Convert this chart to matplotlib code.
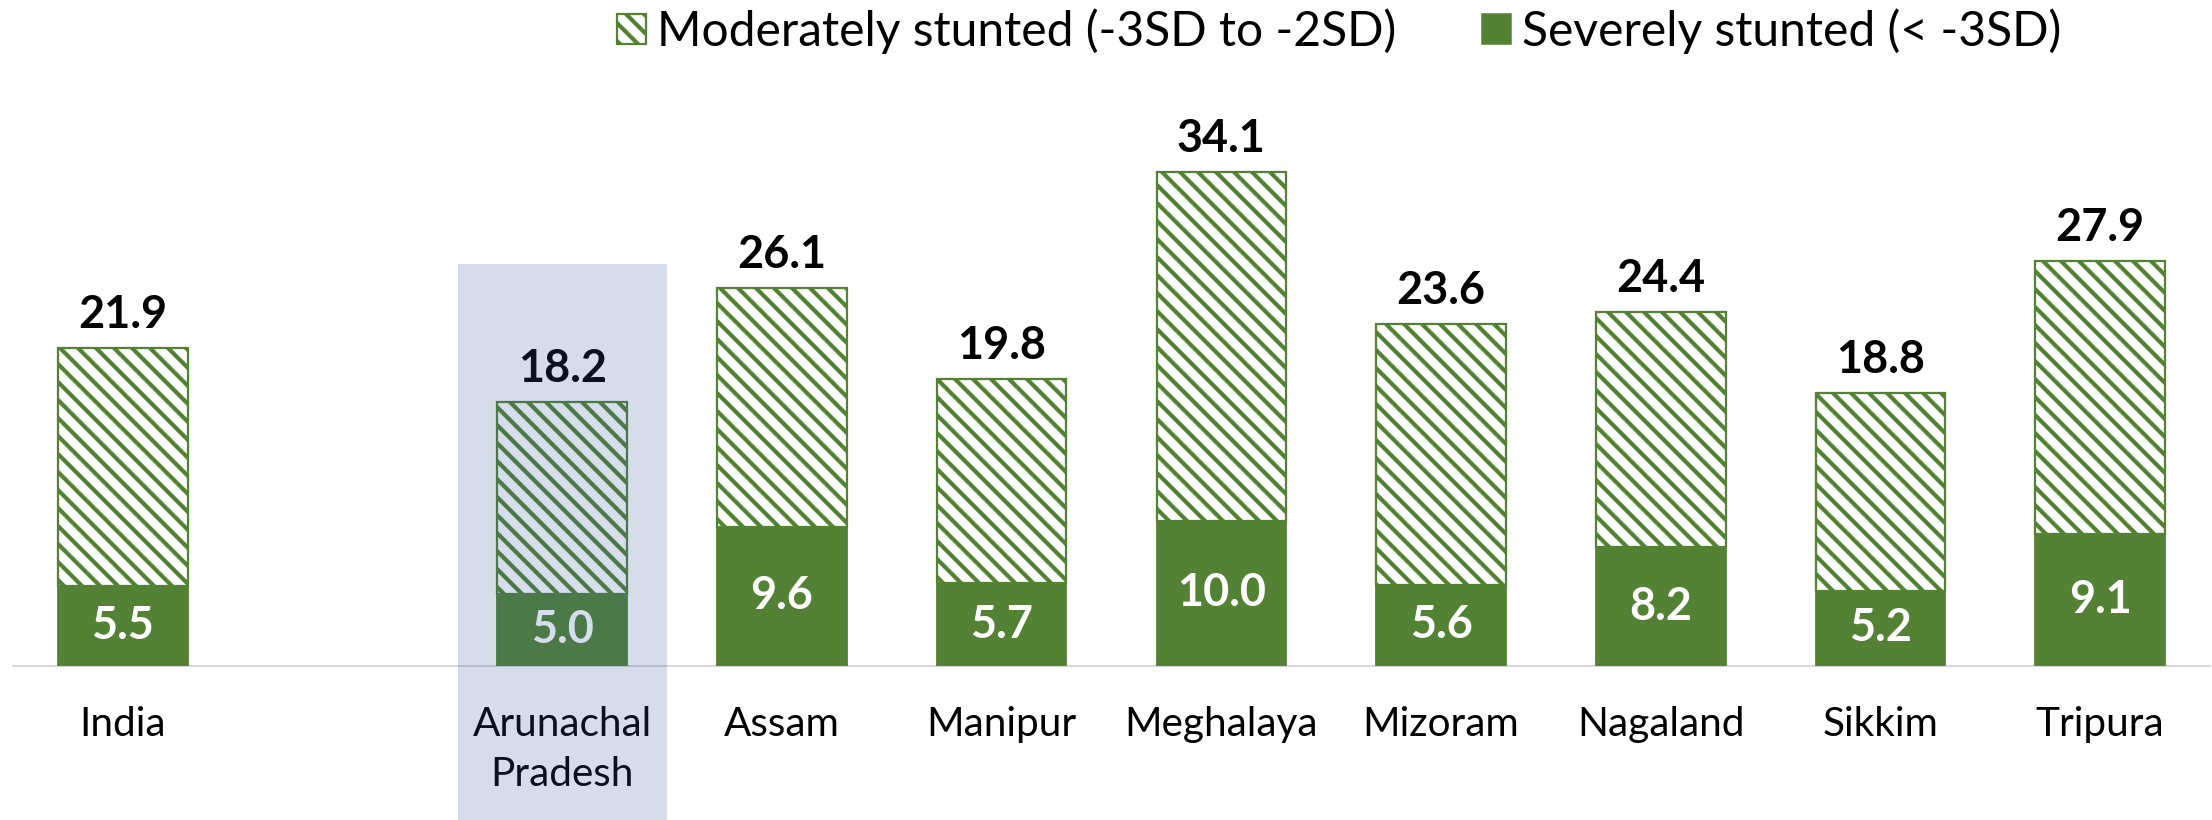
import matplotlib.pyplot as plt
from matplotlib.patches import Patch, Rectangle

# data
states = ['India', 'Arunachal\nPradesh', 'Assam', 'Manipur', 'Meghalaya',
          'Mizoram', 'Nagaland', 'Sikkim', 'Tripura']
total = [21.9, 18.2, 26.1, 19.8, 34.1, 23.6, 24.4, 18.8, 27.9]
severe = [5.5, 5.0, 9.6, 5.7, 10.0, 5.6, 8.2, 5.2, 9.1]
moderate = [t - s for t, s in zip(total, severe)]
highlight = 'Arunachal\nPradesh'

green = '#548235'
DPI = 108

plt.rcParams['font.family'] = ['Lato', 'DejaVu Sans']
plt.rcParams['hatch.linewidth'] = 2.8
px = 72 / DPI
fs_cat = 40.5 * px
fs_val = 45 * px
fs_leg = 48 * px

fig = plt.figure(figsize=(2212 / DPI, 820 / DPI), dpi=DPI)
ax = fig.add_axes([13 / 2212, (820 - 666) / 820, 2197 / 2212, 580 / 820])

# India stands apart, one empty slot before the states
x = [0] + list(range(2, 2 + len(states) - 1))
w = 0.59

ax.bar(x, severe, w, color=green, edgecolor=green, linewidth=1.2, zorder=2)
ax.bar(x, moderate, w, bottom=severe, color='white', edgecolor=green,
       hatch='\\\\', linewidth=1.5, zorder=2)

for xi, s, t in zip(x, severe, total):
    ax.text(xi, s / 2, f'{s:.1f}', ha='center', va='center', color='white',
            fontsize=fs_val, fontweight='bold', zorder=3)
    ax.annotate(f'{t:.1f}', (xi, t), xytext=(0, 33 * px),
                textcoords='offset points', ha='center', va='center',
                fontsize=fs_val, fontweight='bold', color='black', zorder=3)

ax.set_xlim(-0.5, 9.5)
ax.set_ylim(0, 40)
ax.set_xticks(x)
ax.set_xticklabels(states, fontsize=fs_cat, linespacing=1.42)
ax.tick_params(axis='x', length=0, pad=40 * px)
ax.set_yticks([])
for side in ['top', 'right', 'left']:
    ax.spines[side].set_visible(False)
ax.spines['bottom'].set_color('#d9d9d9')
ax.spines['bottom'].set_linewidth(2 * px)
ax.spines['bottom'].set_zorder(1)

# shaded box over the highlighted state
hx = x[states.index(highlight)]
box = Rectangle((hx - 0.475, -10.8), 0.95, 27.7 + 10.8, facecolor='#2F5597',
                alpha=0.2, edgecolor='none', clip_on=False, zorder=5)
ax.add_patch(box)

handles = [Patch(facecolor='white', edgecolor=green, hatch='\\\\', linewidth=1.5),
           Patch(facecolor=green, edgecolor=green)]
fig.legend(handles, ['Moderately stunted (-3SD to -2SD)', 'Severely stunted (< -3SD)'],
           loc='center', bbox_to_anchor=(1339 / 2212, 1 - 31 / 820), ncol=2,
           frameon=False, fontsize=fs_leg, handlelength=0.6, handleheight=0.6,
           handletextpad=0.22, columnspacing=1.8, borderpad=0)

fig.savefig('out.png', dpi=DPI)
